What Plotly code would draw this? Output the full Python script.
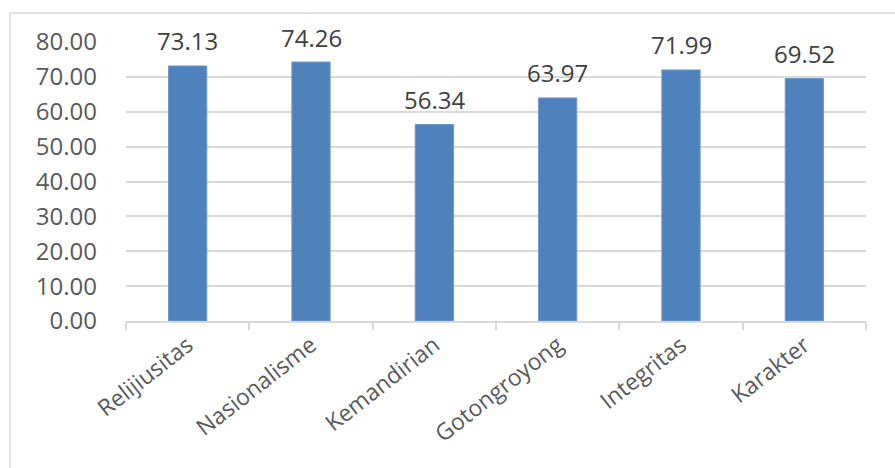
import plotly.graph_objects as go

categories = ["Relijiusitas", "Nasionalisme", "Kemandirian", "Gotongroyong", "Integritas", "Karakter"]
values = [73.13, 74.26, 56.34, 63.97, 71.99, 69.52]
y_ticks = [0, 10, 20, 30, 40, 50, 60, 70, 80]
y_tick_labels = [f"{v:.2f}" for v in y_ticks]

W, H = 895, 468
ml, mr, mt, mb = 126, 29, 42, 147
pw, ph = W - ml - mr, H - mt - mb

fig = go.Figure()
fig.add_trace(go.Bar(
    x=categories, y=values,
    marker=dict(color="#4F81BD", line=dict(color="#6F97C8", width=1)),
    hoverinfo="x+y",
))

for c, v in zip(categories, values):
    fig.add_annotation(x=c, y=v, text=f"{v:.2f}", showarrow=False,
                       yanchor="middle", yshift=25,
                       font=dict(family="Open Sans", size=24, color="#404040"))

fig.add_shape(type="rect", xref="paper", yref="paper",
              x0=(10 - ml) / pw, x1=(905 - ml) / pw,
              y0=1 - (480 - mt) / ph, y1=1 + (mt - 13) / ph,
              line=dict(color="#D9D9D9", width=1.5), layer="below")

fig.update_layout(
    width=W, height=H,
    margin=dict(l=ml, r=mr, t=mt, b=mb),
    paper_bgcolor="white", plot_bgcolor="white",
    bargap=0.69,
    showlegend=False,
    font=dict(family="Open Sans", color="#595959"),
    xaxis=dict(
        type="category",
        showline=True, linecolor="#D9D9D9", linewidth=1.5,
        ticks="outside", tickson="boundaries", ticklen=7, tickcolor="#D9D9D9", tickwidth=1.5,
        tickangle=-38,
        tickfont=dict(family="Open Sans", size=23, color="#595959"),
        showgrid=False,
    ),
    yaxis=dict(
        range=[0, 80],
        tickvals=y_ticks, ticktext=y_tick_labels,
        showgrid=True, gridcolor="#D9D9D9", gridwidth=1.5,
        zeroline=False, showline=False, ticks="",
        ticklabelstandoff=28,
        tickfont=dict(family="Open Sans", size=24, color="#595959"),
    ),
)

fig.write_html("out.html")
